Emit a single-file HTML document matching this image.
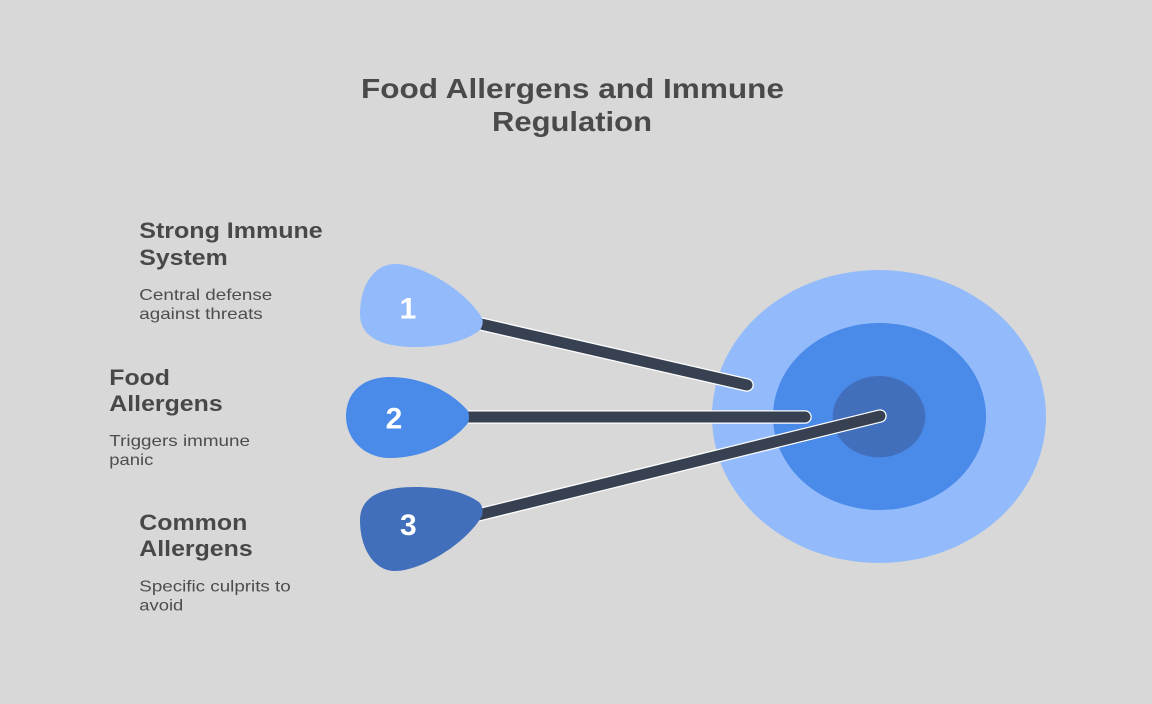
<!DOCTYPE html>
<html>
<head>
<meta charset="utf-8">
<style>
  html,body{margin:0;padding:0;background:#d8d8d8;}
  svg{display:block;}
  .t{font-family:"Liberation Sans",Arial,sans-serif;}
</style>
</head>
<body>
<svg width="1152" height="704" viewBox="0 0 1152 704" xmlns="http://www.w3.org/2000/svg">
  <rect x="0" y="0" width="1152" height="704" fill="#d8d8d8"/>

  <!-- Title -->
  <g class="t" font-weight="bold" fill="#4a4a4a" font-size="28">
    <text x="361" y="98" textLength="423" lengthAdjust="spacingAndGlyphs">Food Allergens and Immune</text>
    <text x="492" y="131" textLength="160" lengthAdjust="spacingAndGlyphs">Regulation</text>
  </g>

  <!-- Target -->
  <ellipse cx="879" cy="416.5" rx="167" ry="146.5" fill="#93bbfb"/>
  <ellipse cx="879.5" cy="416.5" rx="106.5" ry="93.5" fill="#4a8ae9"/>
  <ellipse cx="879" cy="416.7" rx="46.3" ry="40.7" fill="#416fbc"/>

  <!-- Connectors -->
  <g stroke-linecap="round" fill="none">
    <line x1="470" y1="321.5" x2="747" y2="385" stroke="#ffffff" stroke-width="13.5"/>
    <line x1="470" y1="321.5" x2="747" y2="385" stroke="#374151" stroke-width="11"/>
    <line x1="460" y1="417" x2="805" y2="417" stroke="#ffffff" stroke-width="13.5"/>
    <line x1="460" y1="417" x2="805" y2="417" stroke="#374151" stroke-width="11"/>
    <line x1="470" y1="517" x2="880" y2="416" stroke="#ffffff" stroke-width="13.5"/>
    <line x1="470" y1="517" x2="880" y2="416" stroke="#374151" stroke-width="11"/>
  </g>

  <!-- Pins -->
  <path d="M 480,330 C 465,342 440,347 415,347 C 385,347 360,339 360,314 C 360,284 375,264 395,264 C 420,264 465,289 482,318 Q 484,324 480,330 Z" fill="#93bbfb"/>
  <path d="M 468,411 C 450,390 420,377 390,377 C 360,377 346,395 346,416 C 346,440 365,458 390,458 C 420,458 450,445 468,423 Q 470,417 468,411 Z" fill="#4a8ae9"/>
  <path d="M 480,503 C 465,491 440,487 415,487 C 385,487 360,495 360,520 C 360,550 375,571 395,571 C 420,571 465,545 482,516 Q 484,509 480,503 Z" fill="#416fbc"/>

  <g class="t" font-weight="bold" fill="#ffffff" font-size="30" text-anchor="middle">
    <text x="408" y="318.5">1</text>
    <text x="394" y="428.3">2</text>
    <text x="408.3" y="535">3</text>
  </g>

  <!-- Labels -->
  <g class="t" font-weight="bold" fill="#484848" font-size="22">
    <text x="139.3" y="238" textLength="183.4" lengthAdjust="spacingAndGlyphs">Strong Immune</text>
    <text x="139.3" y="265" textLength="88.4" lengthAdjust="spacingAndGlyphs">System</text>
    <text x="109.3" y="385" textLength="60.7" lengthAdjust="spacingAndGlyphs">Food</text>
    <text x="109.3" y="411" textLength="113.4" lengthAdjust="spacingAndGlyphs">Allergens</text>
    <text x="139.3" y="530" textLength="108" lengthAdjust="spacingAndGlyphs">Common</text>
    <text x="139.3" y="556" textLength="113.4" lengthAdjust="spacingAndGlyphs">Allergens</text>
  </g>
  <g class="t" fill="#4d4d4d" font-size="16">
    <text x="139.3" y="300" textLength="133" lengthAdjust="spacingAndGlyphs">Central defense</text>
    <text x="139.3" y="319" textLength="123.4" lengthAdjust="spacingAndGlyphs">against threats</text>
    <text x="109.3" y="446" textLength="140.7" lengthAdjust="spacingAndGlyphs">Triggers immune</text>
    <text x="109.3" y="465" textLength="44" lengthAdjust="spacingAndGlyphs">panic</text>
    <text x="139.3" y="591.5" textLength="151.4" lengthAdjust="spacingAndGlyphs">Specific culprits to</text>
    <text x="139.3" y="610.5" textLength="44" lengthAdjust="spacingAndGlyphs">avoid</text>
  </g>
</svg>
</body>
</html>
